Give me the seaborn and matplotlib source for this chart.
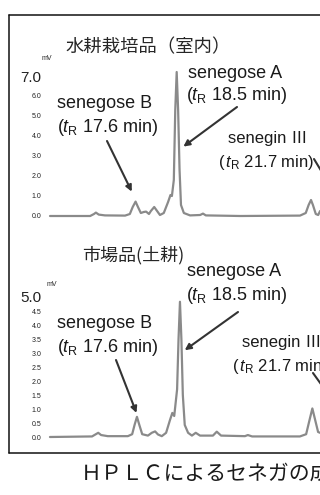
import numpy as np
import matplotlib
matplotlib.use('Agg')
import matplotlib.pyplot as plt
import seaborn as sns
from matplotlib.lines import Line2D
from matplotlib.ticker import MultipleLocator

sns.set_style('white')
plt.rcParams['font.family'] = ['Liberation Sans', 'Noto Sans CJK JP', 'DejaVu Sans']
plt.rcParams['mathtext.fontset'] = 'custom'
plt.rcParams['mathtext.rm'] = 'Liberation Sans'
plt.rcParams['mathtext.it'] = 'Liberation Sans:italic'

# chromatogram: retention time (min) / signal (mV)
hydro_time = [15.85, 16.69, 16.77, 16.81, 16.87, 17.00, 17.42, 17.52, 17.58, 17.64,
              17.69, 17.75, 17.81, 17.86, 17.92, 17.96, 18.03, 18.09, 18.15, 18.23,
              18.32, 18.37, 18.40, 18.44, 18.47, 18.50, 18.53, 18.56, 18.59, 18.65,
              18.78, 18.99, 19.05, 19.11, 19.83, 21.08, 21.20, 21.26, 21.31, 21.35,
              21.41, 21.46, 21.50]
hydro_mv = [0.00, 0.00, 0.10, 0.17, 0.07, 0.03, 0.02, 0.10, 0.45, 0.72,
            0.45, 0.15, 0.20, 0.22, 0.10, 0.25, 0.45, 0.25, 0.05, 0.15,
            0.70, 1.05, 1.00, 1.80, 5.30, 7.20, 5.30, 2.30, 0.55, 0.15,
            0.03, 0.05, 0.12, 0.03, 0.00, 0.02, 0.15, 0.55, 0.80, 0.55,
            0.10, 0.05, 0.25]

soil_time = [15.78, 16.66, 16.74, 16.79, 16.85, 16.99, 17.41, 17.50, 17.55, 17.60,
             17.65, 17.71, 17.83, 17.91, 17.98, 18.04, 18.12, 18.21, 18.29, 18.34,
             18.38, 18.44, 18.47, 18.50, 18.53, 18.56, 18.60, 18.67, 18.75, 18.83,
             18.92, 19.19, 19.27, 19.36, 19.86, 19.92, 20.01, 21.01, 21.14, 21.21,
             21.27, 21.33, 21.39, 21.43]
soil_mv = [0.00, 0.02, 0.10, 0.15, 0.07, 0.03, 0.03, 0.10, 0.43, 0.72,
           0.43, 0.10, 0.05, 0.15, 0.20, 0.09, 0.03, 0.15, 0.60, 0.86,
           0.75, 1.70, 3.50, 4.83, 3.50, 1.50, 0.43, 0.15, 0.05, 0.15,
           0.05, 0.05, 0.19, 0.05, 0.03, 0.07, 0.02, 0.02, 0.10, 0.60,
           1.02, 0.60, 0.18, 0.15]

hydro_ticks = [0, 1, 2, 3, 4, 5, 6, 7]
soil_ticks = [0.0, 0.5, 1.0, 1.5, 2.0, 2.5, 3.0, 3.5, 4.0, 4.5, 5.0]

W, H = 320, 495
fig = plt.figure(figsize=(W / 100, H / 100), dpi=100)


def fx(px):
    return px / W


def fy(py):
    return 1 - py / H


def setup_axis(ax, ticks, big_label):
    for s in ax.spines.values():
        s.set_visible(False)
    ax.set_facecolor('none')
    ax.set_xticks([])
    ax.set_yticks(ticks)
    ax.set_yticklabels([f'{t:.1f}' for t in ticks])
    ax.yaxis.set_minor_locator(MultipleLocator(0.1))
    ax.tick_params(axis='y', which='major', length=3.5, width=0.7, color='#333333',
                   labelsize=5, pad=0.5, labelcolor='#222222')
    ax.tick_params(axis='y', which='minor', length=2, width=0.6, color='#333333')
    lbls = ax.get_yticklabels()
    lbls[-1].set_fontsize(big_label)
    ax.set_xlabel('')
    ax.set_ylabel('')


trace_color = '#8a8a8a'
arrow_kw = dict(arrowstyle='-|>', color='#333333', lw=1.5, mutation_scale=9,
                shrinkA=0, shrinkB=0)

# top panel: hydroponic
ax1 = fig.add_axes([fx(47), fy(221.4), fx(273), (221.4 - 62) / H])
sns.lineplot(x=hydro_time, y=hydro_mv, ax=ax1, color=trace_color, lw=1.6, sort=False)
ax1.set_xlim(15.787, 21.498)
ax1.set_ylim(-0.27, 7.7)
setup_axis(ax1, hydro_ticks, 11)

# bottom panel: soil
ax2 = fig.add_axes([fx(47), fy(441.2), fx(273), (441.2 - 283) / H])
sns.lineplot(x=soil_time, y=soil_mv, ax=ax2, color=trace_color, lw=1.6, sort=False)
ax2.set_xlim(15.718, 21.43)
ax2.set_ylim(-0.15, 5.5)
setup_axis(ax2, soil_ticks, 11)

fig.text(fx(46.7), fy(58), 'mV', fontsize=5, ha='center', va='center')
fig.text(fx(52), fy(284), 'mV', fontsize=5, ha='center', va='center')

# titles
fig.text(fx(65), fy(47), '水耕栽培品（室内）', fontsize=13.2, family='Noto Sans CJK JP',
         va='center')
fig.text(fx(82), fy(255), '市場品(土耕)', fontsize=13, family='Noto Sans CJK JP',
         va='center')

lab = dict(fontsize=13, va='center', ha='left', color='#1a1a1a')
sub = dict(fontsize=12, va='center', ha='left', color='#1a1a1a',
           family=['Liberation Sans', 'Noto Sans CJK JP'])

# top annotations
fig.text(fx(57), fy(104), 'senegose B', **lab)
fig.text(fx(57), fy(127), r'($t_{\rm R}$ 17.6 min)', **lab)
fig.text(fx(188), fy(73), 'senegose A', **lab)
fig.text(fx(186), fy(95), r'($t_{\rm R}$ 18.5 min)', **lab)
fig.text(fx(228), fy(139), 'senegin Ⅲ', **sub)
fig.text(fx(218), fy(162), r'($\,t_{\rm R}$ 21.7 min)', **sub)

ax1.annotate('', xy=(17.56, 1.22), xytext=(fx(107), fy(141)), textcoords='figure fraction',
             arrowprops=arrow_kw)
ax1.annotate('', xy=(18.64, 3.47), xytext=(fx(237), fy(107)), textcoords='figure fraction',
             arrowprops=arrow_kw)
ax1.annotate('', xy=(fx(334), fy(192)), xycoords='figure fraction',
             xytext=(fx(314), fy(159)), textcoords='figure fraction',
             arrowprops=arrow_kw, annotation_clip=False)

# bottom annotations
fig.text(fx(187), fy(272), 'senegose A', **lab)
fig.text(fx(186), fy(296), r'($t_{\rm R}$ 18.5 min)', **lab)
fig.text(fx(57), fy(324), 'senegose B', **lab)
fig.text(fx(57), fy(347), r'($t_{\rm R}$ 17.6 min)', **lab)
fig.text(fx(242), fy(343), 'senegin Ⅲ', **sub)
fig.text(fx(232), fy(366), r'($\,t_{\rm R}$ 21.7 min)', **sub)

ax2.annotate('', xy=(17.59, 0.86), xytext=(fx(116), fy(360)), textcoords='figure fraction',
             arrowprops=arrow_kw)
ax2.annotate('', xy=(18.60, 3.10), xytext=(fx(238), fy(312)), textcoords='figure fraction',
             arrowprops=arrow_kw)
ax2.annotate('', xy=(fx(336), fy(405)), xycoords='figure fraction',
             xytext=(fx(313), fy(373)), textcoords='figure fraction',
             arrowprops=arrow_kw, annotation_clip=False)

# frame around the panels (right side runs off the page)
for xs, ys in [([8.5, 8.5], [15, 453]), ([8.5, 325], [15, 15]), ([8.5, 325], [453, 453])]:
    fig.add_artist(Line2D([fx(x) for x in xs], [fy(y) for y in ys], color='#111111', lw=1.1))

fig.text(fx(81), fy(474), 'ＨＰＬＣによるセネガの成分分析', fontsize=15,
         family='Noto Sans CJK JP', va='center', color='#1a1a1a')

fig.savefig('out.png', dpi=100)
